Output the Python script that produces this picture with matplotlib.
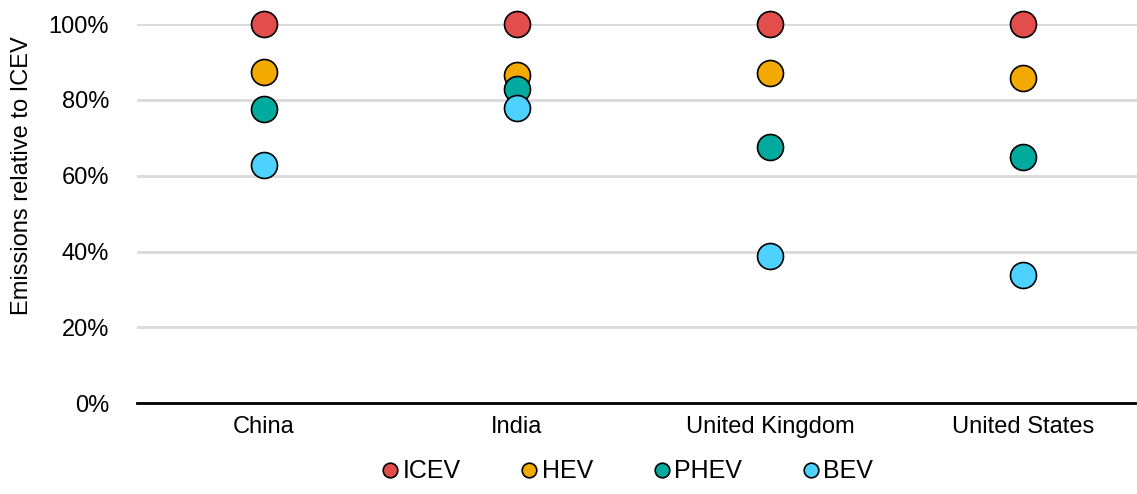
import matplotlib.pyplot as plt
import matplotlib.ticker as ticker

plt.rcParams['font.family'] = ['Liberation Sans', 'DejaVu Sans']

# Data
countries = ['China', 'India', 'United Kingdom', 'United States']
icev = [100, 100, 100, 100]
hev = [87.3, 86.5, 87.2, 85.9]
phev = [77.5, 82.8, 67.6, 65.0]
bev = [62.8, 77.8, 38.7, 33.9]

series = [('ICEV', icev, '#E34D4B'),
          ('HEV', hev, '#F2A900'),
          ('PHEV', phev, '#00AB9E'),
          ('BEV', bev, '#4DD2FF')]

fig = plt.figure(figsize=(11.37, 4.94), dpi=100)
ax = fig.add_axes([0.1205, 0.184, 0.891, 0.767])

for name, vals, color in series:
    ax.scatter(countries, vals, s=350, color=color, edgecolor='black',
               linewidth=1.2, zorder=3, clip_on=False, label=name)

ax.set_xlim(-0.5, 3.5)
ax.set_ylim(0, 100)
ax.set_yticks([0, 20, 40, 60, 80, 100])
ax.yaxis.set_major_formatter(ticker.FuncFormatter(lambda v, _: f'{int(v)}%'))
ax.grid(axis='y', color='#D9D9D9', linewidth=2)
ax.set_axisbelow(True)

for side in ['top', 'right', 'left']:
    ax.spines[side].set_visible(False)
ax.spines['bottom'].set_linewidth(2)
ax.spines['bottom'].set_zorder(2)
ax.tick_params(axis='both', length=0, labelsize=17, pad=9)
ax.tick_params(axis='y', pad=20)
ax.set_ylabel('Emissions relative to ICEV', fontsize=17)
ax.yaxis.set_label_coords(-0.103, 0.60)

handles = [plt.Line2D([], [], marker='o', linestyle='', markersize=10.5,
                      markerfacecolor=c, markeredgecolor='black',
                      markeredgewidth=1.2) for _, _, c in series]
fig.legend(handles, [n for n, _, _ in series], loc='center',
           bbox_to_anchor=(0.550, 0.046), ncol=4, frameon=False,
           fontsize=18, handletextpad=0.0, columnspacing=2.25,
           handlelength=1.0)

fig.savefig('out.png', dpi=100)
